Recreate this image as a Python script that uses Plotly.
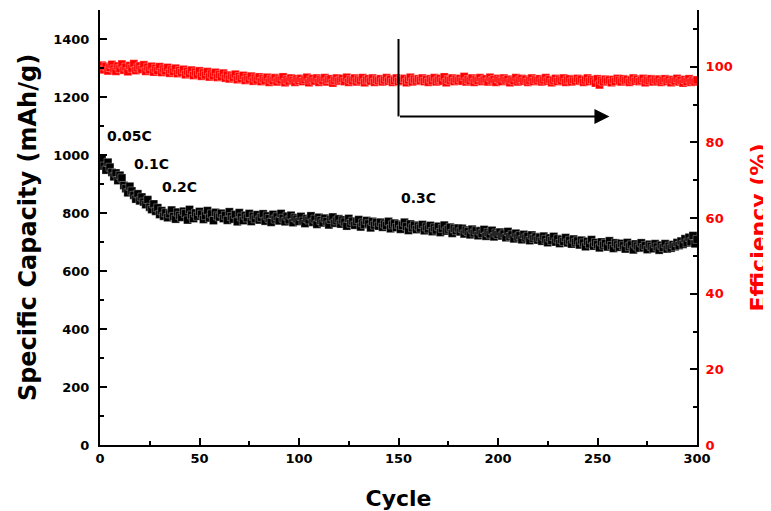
import plotly.graph_objects as go

# ---- data ----
cycles = list(range(1, 301))

capacity = [
    985, 962, 948, 975, 958, 940, 925, 938, 912, 930, 921, 895, 884, 870, 892, 876, 861, 848, 866, 842,
    855, 838, 829, 846, 820, 812, 831, 806, 818, 795, 808, 789, 801, 784, 797, 810, 788, 779, 803, 792,
    785, 806, 798, 776, 812, 793, 781, 800, 789, 805, 796, 778, 791, 808, 783, 797, 774, 802, 790, 786,
    799, 781, 792, 775, 804, 788, 779, 795, 770, 801, 786, 774, 792, 783, 798, 771, 789, 780, 794, 776,
    785, 797, 772, 790, 781, 768, 795, 779, 787, 773, 798, 782, 770, 789, 776, 792, 767, 784, 779, 771,
    788, 772, 764, 781, 776, 790, 768, 779, 761, 785, 774, 766, 782, 771, 759, 778, 786, 765, 773, 780,
    762, 776, 769, 755, 781, 764, 772, 758, 770, 777, 752, 766, 760, 774, 763, 749, 771, 758, 767, 755,
    768, 751, 762, 757, 771, 746, 759, 765, 750, 761, 744, 757, 768, 753, 740, 762, 749, 758, 743, 755,
    748, 760, 739, 752, 745, 757, 736, 749, 741, 754, 733, 747, 758, 738, 744, 751, 730, 746, 739, 748,
    735, 747, 728, 741, 736, 725, 744, 731, 739, 722, 738, 729, 743, 720, 733, 727, 740, 718, 731, 726,
    734, 721, 728, 715, 736, 719, 725, 711, 730, 717, 722, 708, 726, 714, 720, 705, 724, 712, 718, 707,
    716, 703, 720, 709, 698, 714, 705, 719, 700, 711, 695, 708, 702, 715, 697, 706, 693, 710, 699, 704,
    690, 706, 697, 684, 702, 693, 708, 686, 698, 691, 680, 700, 689, 695, 683, 704, 688, 678, 697, 690,
    682, 695, 687, 676, 698, 684, 690, 673, 693, 686, 679, 697, 681, 688, 674, 692, 685, 677, 694, 683,
    672, 689, 681, 694, 676, 686, 679, 691, 684, 698, 688, 703, 692, 711, 697, 716, 701, 722, 694, 709,
]

efficiency = [
    100.4, 99.2, 100.1, 98.9, 99.8, 100.6, 99.4, 98.8, 100.2, 99.5, 100.7, 99.1, 99.9, 98.7, 100.3, 99.6, 100.8, 99.0, 99.7, 100.2,
    99.3, 100.5, 98.8, 99.9, 99.2, 100.1, 98.6, 99.6, 99.0, 100.0, 98.5, 99.4, 98.9, 99.8, 98.3, 99.2, 98.7, 99.6, 98.2, 99.0,
    98.5, 99.3, 97.9, 98.8, 98.2, 99.1, 97.7, 98.6, 98.0, 98.9, 97.5, 98.4, 97.8, 98.7, 97.3, 98.1, 97.6, 98.5, 97.2, 97.9,
    97.4, 98.3, 97.0, 97.8, 96.8, 97.6, 97.2, 98.0, 96.6, 97.4, 96.9, 97.7, 96.4, 97.2, 96.7, 97.5, 96.2, 97.0, 96.5, 97.3,
    96.1, 96.9, 96.4, 97.2, 95.9, 96.7, 96.3, 97.1, 96.0, 96.8, 96.5, 97.3, 95.8, 96.6, 96.2, 97.0, 96.4, 95.9, 96.8, 96.3,
    96.9, 96.1, 96.6, 97.2, 95.8, 96.5, 96.9, 96.2, 97.0, 95.9, 96.7, 96.3, 97.1, 96.0, 96.6, 96.8, 95.7, 96.4, 97.0, 96.2,
    96.5, 96.9, 96.1, 97.2, 95.9, 96.6, 96.3, 97.0, 96.0, 96.7, 96.4, 97.1, 95.8, 96.5, 96.8, 96.2, 97.0, 95.9, 96.6, 96.3,
    96.8, 96.0, 96.5, 97.1, 96.2, 96.7, 95.9, 96.4, 97.0, 96.1, 96.6, 96.3, 96.9, 95.8, 96.5, 97.2, 96.0, 96.7, 96.2, 96.8,
    96.4, 97.0, 96.1, 96.6, 95.9, 96.8, 96.3, 97.1, 96.0, 96.5, 96.9, 96.2, 97.3, 95.8, 96.6, 96.4, 97.0, 96.1, 96.7, 96.3,
    96.9, 96.2, 97.4, 96.0, 96.6, 96.3, 97.0, 95.9, 96.7, 96.4, 97.1, 96.1, 96.5, 96.8, 96.0, 97.2, 96.3, 96.6, 95.9, 96.9,
    96.5, 96.1, 97.0, 96.4, 96.7, 95.8, 96.6, 96.3, 97.1, 96.0, 96.5, 96.9, 96.2, 96.7, 95.9, 96.4, 97.0, 96.1, 96.6, 96.3,
    96.8, 96.0, 96.5, 97.1, 96.2, 96.6, 95.8, 96.4, 96.9, 96.1, 96.7, 96.3, 97.0, 95.9, 96.5, 96.8, 96.0, 96.6, 96.2, 96.9,
    96.3, 96.7, 95.9, 96.5, 97.0, 96.1, 96.6, 96.2, 95.7, 96.8, 95.2, 96.4, 96.0, 96.7, 96.2, 96.5, 95.8, 96.6, 96.1, 96.9,
    96.4, 96.0, 96.8, 96.3, 96.6, 95.9, 96.5, 97.0, 96.2, 96.7, 96.1, 96.4, 96.9, 95.8, 96.5, 96.3, 96.8, 96.0, 96.6, 96.2,
    96.7, 95.9, 96.4, 96.8, 96.1, 96.5, 95.8, 96.6, 96.2, 96.9, 96.0, 96.4, 95.7, 96.6, 96.1, 96.8, 95.9, 96.3, 96.0, 96.5,
]

rate_labels = ["0.05C", "0.1C", "0.2C", "0.3C"]
rate_cycles = [15, 26, 40, 160]
rate_caps = [1064, 970, 890, 852]

x_title = "Cycle"
y_title = "Specific Capacity (mAh/g)"
y2_title = "Efficiency (%)"

FONT = "DejaVu Sans, Arial, sans-serif"

fig = go.Figure()
fig.add_trace(go.Scatter(
    x=cycles, y=efficiency, mode="markers", yaxis="y2",
    marker=dict(symbol="square", size=8, color="#ff0000", line=dict(width=0.3, color="white")),
    showlegend=False,
))
fig.add_trace(go.Scatter(
    x=cycles, y=capacity, mode="markers",
    marker=dict(symbol="square", size=8, color="black", line=dict(width=0.3, color="white")),
    showlegend=False,
))

for lab, cx, cy in zip(rate_labels, rate_cycles, rate_caps):
    fig.add_annotation(x=cx, y=cy, xref="x", yref="y", text=lab, showarrow=False,
                       font=dict(family=FONT, size=14, color="black", weight="bold"))

# arrow: vertical line then horizontal arrow pointing right
fig.add_shape(type="line", xref="x", yref="y", x0=150, x1=150, y0=1400, y1=1133,
              line=dict(color="black", width=2))
fig.add_annotation(x=256, y=1133, ax=150, ay=1133, xref="x", yref="y", axref="x", ayref="y",
                   text="", showarrow=True, arrowhead=2, arrowsize=1.5, arrowwidth=2,
                   arrowcolor="black")

tickfont = dict(family=FONT, size=13, color="black", weight="bold")

# the page shows the figure offset by ~8px, so the figure is sized to fit the window
fig.update_layout(
    width=763, height=503,
    margin=dict(l=92, r=74, t=2, b=66),
    plot_bgcolor="white", paper_bgcolor="white",
    font=dict(family=FONT),
    xaxis=dict(
        range=[0, 300], dtick=50, tick0=0, ticks="inside", ticklen=7, tickwidth=2,
        tickcolor="black", showline=True, linecolor="black", linewidth=2, mirror=False,
        showgrid=False, zeroline=False, tickfont=tickfont,
        minor=dict(dtick=25, ticks="inside", ticklen=4, tickwidth=2, tickcolor="black"),
        title=dict(text=x_title, font=dict(family=FONT, size=22, color="black", weight="bold"),
                   standoff=28),
    ),
    yaxis=dict(
        range=[0, 1500], dtick=200, tick0=0, ticks="inside", ticklen=7, tickwidth=2,
        tickcolor="black", showline=True, linecolor="black", linewidth=2,
        showgrid=False, zeroline=False, tickfont=tickfont, ticklabelstandoff=6,
        minor=dict(dtick=100, ticks="inside", ticklen=4, tickwidth=2, tickcolor="black"),
        title=dict(text=y_title, font=dict(family=FONT, size=24, color="black", weight="bold"),
                   standoff=10),
    ),
    yaxis2=dict(
        range=[0, 115], dtick=20, tick0=0, overlaying="y", side="right",
        ticks="inside", ticklen=7, tickwidth=2, tickcolor="black",
        showline=True, linecolor="black", linewidth=2,
        showgrid=False, zeroline=False, ticklabelstandoff=4,
        tickfont=dict(family=FONT, size=13, color="#ff0000", weight="bold"),
        minor=dict(dtick=10, ticks="inside", ticklen=4, tickwidth=2, tickcolor="black"),
        title=dict(text=y2_title, font=dict(family=FONT, size=22, color="#ff0000", weight="bold"),
                   standoff=22),
    ),
)

fig.write_html("out.html")
